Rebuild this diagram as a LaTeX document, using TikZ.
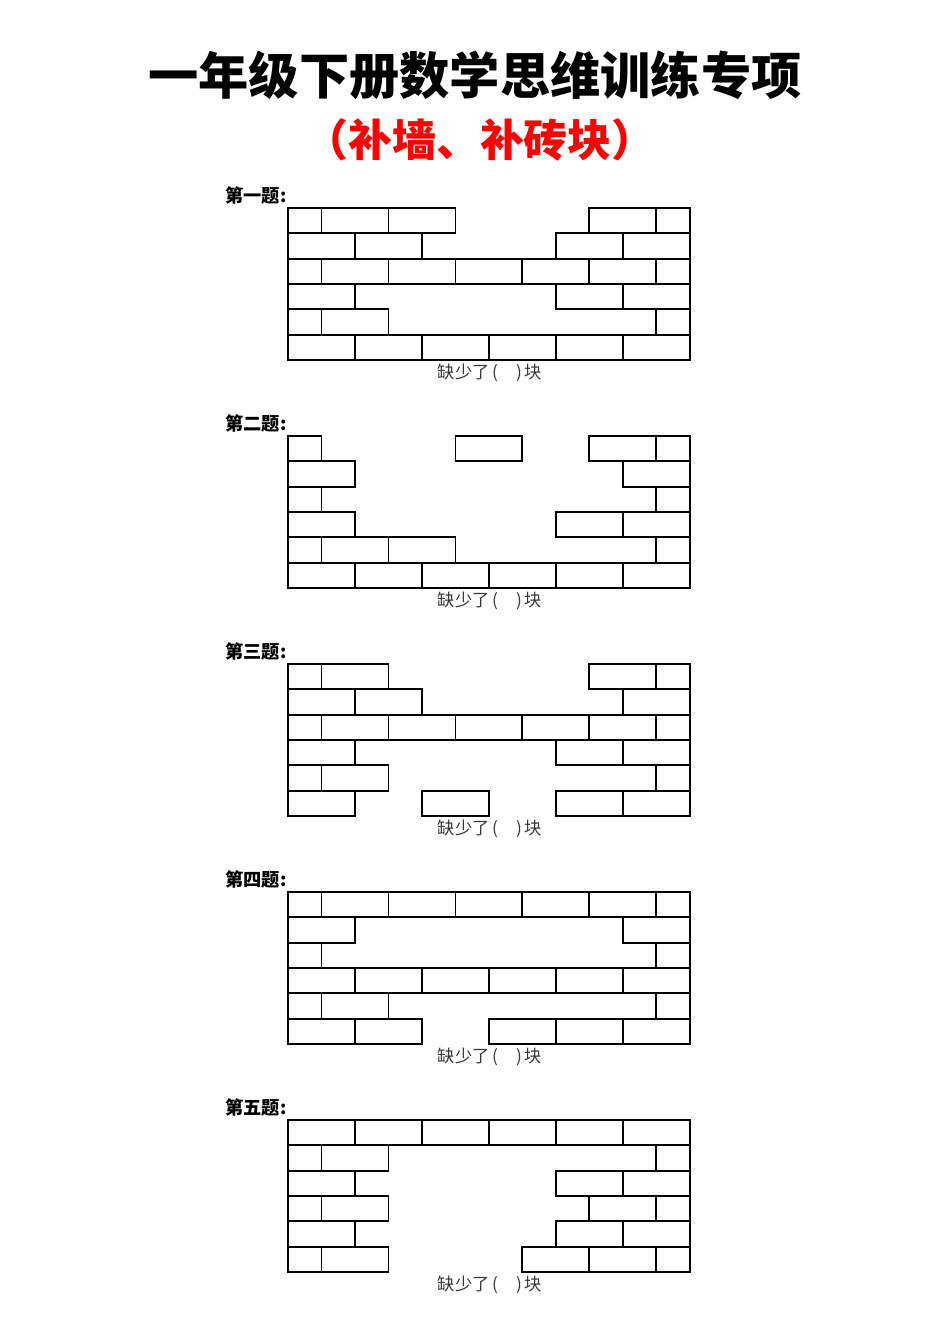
\documentclass[tikz,border=0pt]{standalone}
\usepackage{fontspec}
\setmainfont{Noto Sans CJK SC}
\usepackage{tikz}
\usetikzlibrary{positioning}
\definecolor{capgray}{RGB}{55,55,55}
\tikzstyle{brick}=[draw=black,line width=1.1pt,line join=miter]
\tikzstyle{ttl}=[font=\bfseries\fontsize{28.6}{30}\selectfont,inner sep=0]
\tikzstyle{subttl}=[font=\bfseries\fontsize{25}{27}\selectfont,text=red,inner sep=0]
\tikzstyle{qlabel}=[font=\bfseries\fontsize{10.4}{11}\selectfont,anchor=west,inner sep=0]
\tikzstyle{qcap}=[font=\fontsize{9.8}{10}\selectfont,text=capgray,inner sep=0]
% one row of a wall: row number, list of from/to (in bricks)
\newcommand{\wrow}[2]{\foreach \a/\b in {#2} {\draw[brick] (\a,#1-1) rectangle (\b,#1);}}
% a wall with its label and caption
\newcommand{\wallat}[3]{
  \node[qlabel] (#1l) at (225,#2-12.5) {#3};
  \node[qcap] (#1c) at (490,#2+165) {缺少了\,(\hspace{1.05em})\,块};
}
\begin{document}
\begin{tikzpicture}[x=0.02cm,y=-0.02cm]
  \useasboundingbox (0,0) rectangle (950,1344);

  \node[ttl] (title) at (475,75) {一年级下册数学思维训练专项};
  \node[subttl] (sub) at (480,140) {（补墙、补砖块）};

  % 1
  \wallat{a}{208}{第一题:};
  \begin{scope}[shift={(288,208)},x=1.34cm,y=-0.5067cm]
    \wrow{1}{0/0.5,0.5/1.5,1.5/2.5,4.5/5.5,5.5/6}
    \wrow{2}{0/1,1/2,4/5,5/6}
    \wrow{3}{0/0.5,0.5/1.5,1.5/2.5,2.5/3.5,3.5/4.5,4.5/5.5,5.5/6}
    \wrow{4}{0/1,4/5,5/6}
    \wrow{5}{0/0.5,0.5/1.5,5.5/6}
    \wrow{6}{0/1,1/2,2/3,3/4,4/5,5/6}
  \end{scope}

  % 2
  \wallat{b}{436}{第二题:};
  \begin{scope}[shift={(288,436)},x=1.34cm,y=-0.5067cm]
    \wrow{1}{0/0.5,2.5/3.5,4.5/5.5,5.5/6}
    \wrow{2}{0/1,5/6}
    \wrow{3}{0/0.5,5.5/6}
    \wrow{4}{0/1,4/5,5/6}
    \wrow{5}{0/0.5,0.5/1.5,1.5/2.5,5.5/6}
    \wrow{6}{0/1,1/2,2/3,3/4,4/5,5/6}
  \end{scope}

  % 3
  \wallat{c}{664}{第三题:};
  \begin{scope}[shift={(288,664)},x=1.34cm,y=-0.5067cm]
    \wrow{1}{0/0.5,0.5/1.5,4.5/5.5,5.5/6}
    \wrow{2}{0/1,1/2,5/6}
    \wrow{3}{0/0.5,0.5/1.5,1.5/2.5,2.5/3.5,3.5/4.5,4.5/5.5,5.5/6}
    \wrow{4}{0/1,4/5,5/6}
    \wrow{5}{0/0.5,0.5/1.5,5.5/6}
    \wrow{6}{0/1,2/3,4/5,5/6}
  \end{scope}

  % 4
  \wallat{d}{892}{第四题:};
  \begin{scope}[shift={(288,892)},x=1.34cm,y=-0.5067cm]
    \wrow{1}{0/0.5,0.5/1.5,1.5/2.5,2.5/3.5,3.5/4.5,4.5/5.5,5.5/6}
    \wrow{2}{0/1,5/6}
    \wrow{3}{0/0.5,5.5/6}
    \wrow{4}{0/1,1/2,2/3,3/4,4/5,5/6}
    \wrow{5}{0/0.5,0.5/1.5,5.5/6}
    \wrow{6}{0/1,1/2,3/4,4/5,5/6}
  \end{scope}

  % 5
  \wallat{e}{1120}{第五题:};
  \begin{scope}[shift={(288,1120)},x=1.34cm,y=-0.5067cm]
    \wrow{1}{0/1,1/2,2/3,3/4,4/5,5/6}
    \wrow{2}{0/0.5,0.5/1.5,5.5/6}
    \wrow{3}{0/1,4/5,5/6}
    \wrow{4}{0/0.5,0.5/1.5,4.5/5.5,5.5/6}
    \wrow{5}{0/1,4/5,5/6}
    \wrow{6}{0/0.5,0.5/1.5,3.5/4.5,4.5/5.5,5.5/6}
  \end{scope}
\end{tikzpicture}
\end{document}
